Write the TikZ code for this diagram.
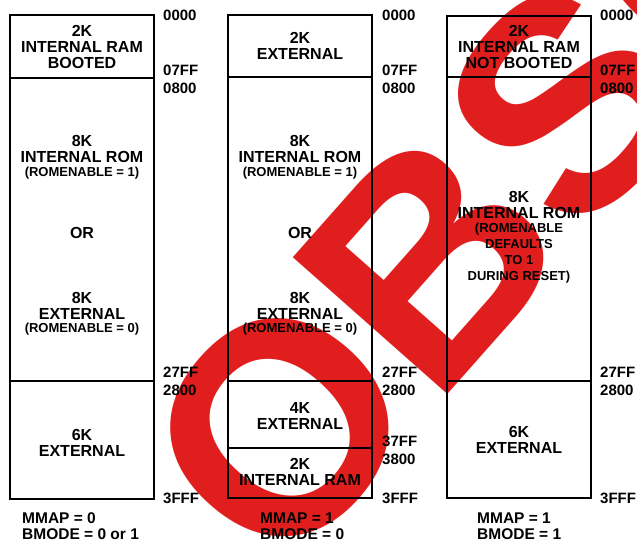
\documentclass[tikz,border=0pt]{standalone}
\usepackage{fontspec}
\setmainfont{Liberation Sans}
\definecolor{stamp}{RGB}{225,30,30}

\begin{document}
\begin{tikzpicture}[x=1pt, y=-1pt,
    region/.style={draw, line width=1.5pt, minimum width=144pt, inner sep=0pt},
    lbl/.style={align=center, inner sep=0pt, font=\fontsize{16}{16}\selectfont\bfseries},
    note/.style={align=center, inner sep=0pt, font=\fontsize{13}{16}\selectfont\bfseries},
    addr/.style={anchor=west, inner sep=0pt, font=\fontsize{15}{15}\selectfont\bfseries},
    mode/.style={anchor=west, inner sep=0pt, font=\fontsize{15.5}{16}\selectfont\bfseries}
  ]
  \useasboundingbox (0,0) rectangle (637,543);
  \clip (0,0) rectangle (637,543);

  % watermark
  \node[anchor=base west, rotate=48.5, text=stamp, inner sep=0pt, font=\fontsize{300}{300}\selectfont\bfseries] (stamp) at (280,584) {OBSOLETE};

  % MMAP = 0
  \node[region, minimum height=63pt] (lram) at (82,46.5) {};
  \node[region, minimum height=303pt] (lrom) at (82,229.5) {};
  \node[region, minimum height=118pt] (lext) at (82,440) {};
  \node[lbl] (lramtxt) at (lram) {2K\\INTERNAL RAM\\BOOTED};
  \node[lbl] (lromtxt) at (82,149) {8K\\INTERNAL ROM};
  \node[note] (lromnote) at (82,173) {(ROMENABLE = 1)};
  \node[lbl] (lor) at (82,233) {OR};
  \node[lbl] (lromext) at (82,306) {8K\\EXTERNAL};
  \node[note] (lextnote) at (82,329) {(ROMENABLE = 0)};
  \node[lbl] (lexttxt) at (82,443) {6K\\EXTERNAL};

  % MMAP = 1, BMODE = 0
  \node[region, minimum height=62pt] (mext) at (300,46) {};
  \node[region, minimum height=304pt] (mrom) at (300,229) {};
  \node[region, minimum height=67pt] (mext4) at (300,414.5) {};
  \node[region, minimum height=50pt] (mram) at (300,473) {};
  \node[lbl] (mexttxt) at (mext) {2K\\EXTERNAL};
  \node[lbl] (mromtxt) at (300,149) {8K\\INTERNAL ROM};
  \node[note] (mromnote) at (300,173) {(ROMENABLE = 1)};
  \node[lbl] (mor) at (300,233) {OR};
  \node[lbl] (mromext) at (300,306) {8K\\EXTERNAL};
  \node[note] (mextnote) at (300,329) {(ROMENABLE = 0)};
  \node[lbl] (mext4txt) at (300,416) {4K\\EXTERNAL};
  \node[lbl] (mramtxt) at (300,472) {2K\\INTERNAL RAM};

  % MMAP = 1, BMODE = 1
  \node[region, minimum height=61pt] (rram) at (519,46.5) {};
  \node[region, minimum height=304pt] (rrom) at (519,229) {};
  \node[region, minimum height=117pt] (rext) at (519,439.5) {};
  \node[lbl] (rramtxt) at (rram) {2K\\INTERNAL RAM\\NOT BOOTED};
  \node[lbl] (rromtxt) at (519,204.5) {8K\\INTERNAL ROM};
  \node[note] (rromnote) at (519,253) {(ROMENABLE\\DEFAULTS\\TO 1\\DURING RESET)};
  \node[lbl] (rexttxt) at (rext) {6K\\EXTERNAL};

  % addresses
  \foreach \x in {163,382,600}
    \foreach \y/\a in {15/0000, 70/07FF, 88/0800, 372/27FF, 390/2800, 498/3FFF}
      \node[addr] (addr-\x-\a) at (\x,\y) {\a};
  \node[addr] (addr-382-37FF) at (382,441) {37FF};
  \node[addr] (addr-382-3800) at (382,459) {3800};

  % modes
  \node[mode] (lmmap) at (22,518) {MMAP = 0};
  \node[mode] (lbmode) at (22,534) {BMODE = 0 or 1};
  \node[mode] (mmmap) at (260,518) {MMAP = 1};
  \node[mode] (mbmode) at (260,534) {BMODE = 0};
  \node[mode] (rmmap) at (477,518) {MMAP = 1};
  \node[mode] (rbmode) at (477,534) {BMODE = 1};
\end{tikzpicture}
\end{document}
